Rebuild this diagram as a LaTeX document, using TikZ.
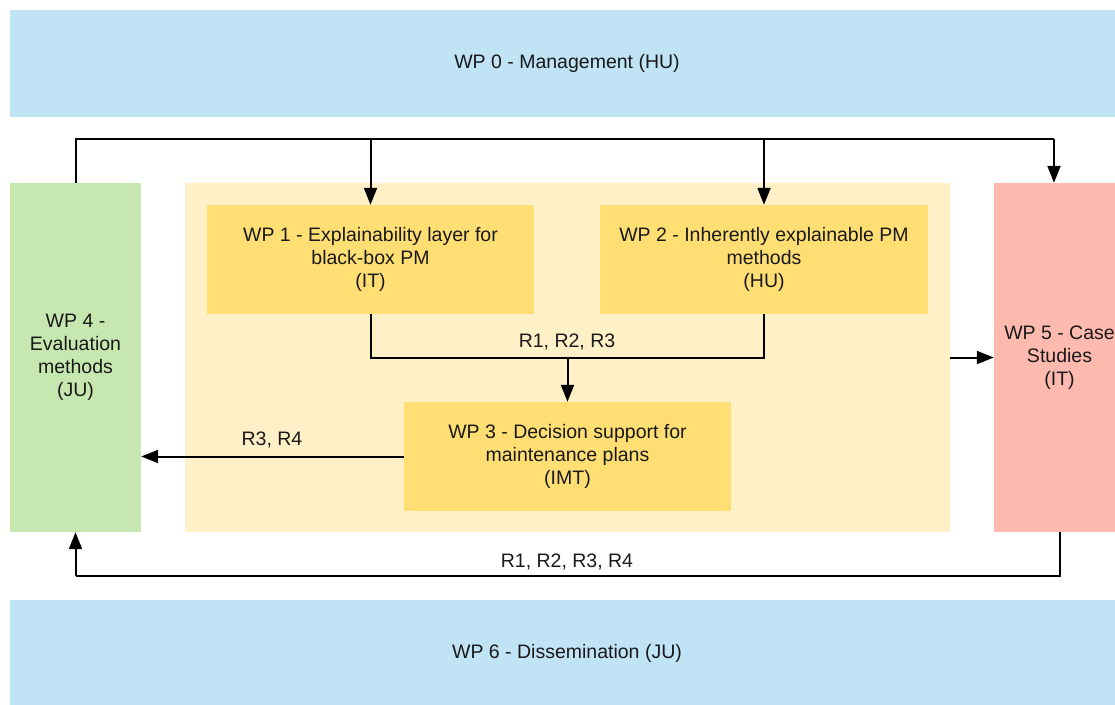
\documentclass[tikz,border=0pt]{standalone}
\usepackage{fontspec}
\setmainfont{Liberation Sans}
\usetikzlibrary{arrows.meta}
\definecolor{wpblue}{RGB}{193,227,246}
\definecolor{wpgreen}{RGB}{199,231,176}
\definecolor{wpcore}{RGB}{255,240,200}
\definecolor{wpyellow}{RGB}{255,222,115}
\definecolor{wppink}{RGB}{255,186,176}
\begin{document}
\begin{tikzpicture}[x=1pt,y=-1pt,
  box/.style={rectangle, inner sep=0pt, align=center, text=black!90,
    font=\fontsize{19.5pt}{23pt}\selectfont},
  lbl/.style={inner sep=0pt, font=\fontsize{19.5pt}{23pt}\selectfont, text=black!90},
  conn/.style={line width=2pt, draw=black},
  arr/.style={conn, -{Triangle[length=17pt,width=13pt]}}
]
\useasboundingbox (0,0) rectangle (1115,704);
% background bands
\node[box, fill=wpblue, minimum width=1114pt, minimum height=107pt] (wp0) at (567,63.5) {WP 0 - Management (HU)};
\node[box, fill=wpblue, minimum width=1114pt, minimum height=106pt] (wp6) at (567,653) {WP 6 - Dissemination (JU)};
% core container
\node[box, fill=wpcore, minimum width=765pt, minimum height=349pt] (core) at (567.5,357.5) {};
% side boxes
\node[box, fill=wpgreen, minimum width=131pt, minimum height=349pt] (wp4) at (75.5,357.5) {WP 4 -\\Evaluation\\methods\\(JU)};
\node[box, fill=wppink, minimum width=131pt, minimum height=349pt] (wp5) at (1059.5,357.5) {WP 5 - Case\\Studies\\(IT)};
% inner boxes
\node[box, fill=wpyellow, minimum width=327pt, minimum height=109pt] (wp1) at (370.5,259.5) {WP 1 - Explainability layer for\\black-box PM\\(IT)};
\node[box, fill=wpyellow, minimum width=328pt, minimum height=109pt] (wp2) at (764,259.5) {WP 2 - Inherently explainable PM\\methods\\(HU)};
\node[box, fill=wpyellow, minimum width=327pt, minimum height=109pt] (wp3) at (567.5,456.5) {WP 3 - Decision support for\\maintenance plans\\(IMT)};
% coordinates
\coordinate (tl) at (75.5,139);
\coordinate (tr) at (1054,139);
\coordinate (t1) at (370.5,139);
\coordinate (t2) at (764,139);
\coordinate (m1) at (370.5,358);
\coordinate (m2) at (764,358);
\coordinate (mm) at (567.5,358);
\coordinate (br) at (1059.5,576);
\coordinate (bl) at (75.5,576);
% top distribution
\draw[conn] (wp4.north) -- (tl) -- (tr);
\draw[arr] (tr) -- (wp5.north -| tr);
\draw[arr] (t1) -- (wp1.north);
\draw[arr] (t2) -- (wp2.north);
% merge WP1, WP2 -> WP3
\draw[conn] (wp1.south) -- (m1) -- (m2) -- (wp2.south);
\draw[arr] (mm) -- (wp3.north);
\node[lbl] (l123) at (567,342) {R1, R2, R3};
% WP3 -> WP4
\draw[arr] (wp3.west) -- (wp4.east |- wp3.west);
\node[lbl] (l34) at (272,440) {R3, R4};
% core -> WP5
\draw[arr] (core.east) -- (wp5.west);
% WP5 -> WP4 bottom
\draw[conn] (wp5.south) -- (br) -- (bl);
\draw[arr] (bl) -- (wp4.south);
\node[lbl] (l1234) at (567,562) {R1, R2, R3, R4};
\end{tikzpicture}
\end{document}
